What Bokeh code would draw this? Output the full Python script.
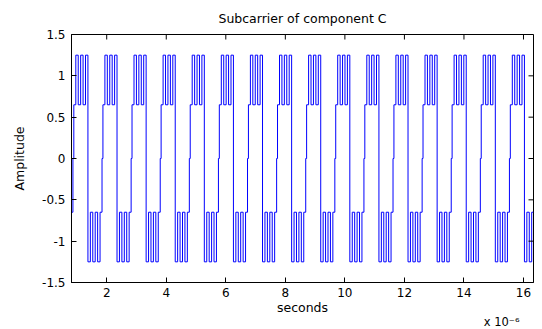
import numpy as np
from bokeh.plotting import figure
from bokeh.models import FixedTicker, Range1d, Title
from bokeh.embed import file_html
from bokeh.resources import INLINE

# ---- values ----
x_limits = [0.817, 16.336]          # axis limits, in microseconds (x 10^-6 s)
y_limits = [-1.5, 1.5]
period_us = 0.9775                  # one subcarrier period (~1 chip)
first_rise_us = 0.88                # first rising edge
# levels of the 12 equal sub-intervals of one period
pattern = [0.65, 1.25, 0.65, 1.25, 0.65, 1.25,
           -1.25, -0.65, -1.25, -0.65, -1.25, -0.65]
edge_level = 0.0                    # short level seen on every rising edge
edge_width_us = 0.03
x_ticks = [2, 4, 6, 8, 10, 12, 14, 16]
x_labels = ["2", "4", "6", "8", "10", "12", "14", "16"]
y_ticks = [-1.5, -1, -0.5, 0, 0.5, 1, 1.5]
y_labels = ["-1.5", "-1", "-0.5", "0", "0.5", "1", "1.5"]

# ---- build the stepped waveform from the period pattern ----
sub = period_us / len(pattern)
k_first = int(np.floor((x_limits[0] - first_rise_us) / period_us)) - 1
k_last = int(np.ceil((x_limits[1] - first_rise_us) / period_us)) + 1
segs = []
for k in range(k_first, k_last + 1):
    t_r = first_rise_us + k * period_us
    segs.append((t_r - edge_width_us / 2, edge_level))
    for i, lev in enumerate(pattern):
        start = t_r + i * sub + (edge_width_us / 2 if i == 0 else 0.0)
        segs.append((start, lev))
segs.sort()
clipped = []
for j, (s, lev) in enumerate(segs):
    nxt = segs[j + 1][0] if j + 1 < len(segs) else np.inf
    if nxt <= x_limits[0] or s >= x_limits[1]:
        continue
    clipped.append((max(s, x_limits[0]), lev))
xs, ys = [], []
for j, (s, lev) in enumerate(clipped):
    e = clipped[j + 1][0] if j + 1 < len(clipped) else x_limits[1]
    xs += [s, e]
    ys += [lev, lev]

FONT = "DejaVu Sans"
FS_TICK = "12px"
FS_LAB = "12.5px"
FW, FH = 462, 248
TICK_PX = 5

p = figure(frame_width=FW, frame_height=FH,
           min_border_left=71, min_border_right=9,
           min_border_top=34, min_border_bottom=47,
           x_range=Range1d(*x_limits), y_range=Range1d(*y_limits),
           output_backend="svg", toolbar_location=None,
           background_fill_color="white", border_fill_color="white",
           title="Subcarrier of component C")

p.line(xs, ys, line_color="#0000ff", line_width=1)

# inward ticks on the top and right edges (MATLAB box)
dy = TICK_PX * (y_limits[1] - y_limits[0]) / FH
dx = TICK_PX * (x_limits[1] - x_limits[0]) / FW
p.segment(x0=x_ticks, y0=[y_limits[1]] * len(x_ticks),
          x1=x_ticks, y1=[y_limits[1] - dy] * len(x_ticks),
          line_color="black", line_width=1)
p.segment(x0=[x_limits[1]] * len(y_ticks), y0=y_ticks,
          x1=[x_limits[1] - dx] * len(y_ticks), y1=y_ticks,
          line_color="black", line_width=1)

p.grid.visible = False
p.outline_line_color = "black"
p.outline_line_width = 1

p.title.align = "center"
p.title.text_font = FONT
p.title.text_font_size = FS_LAB
p.title.text_font_style = "normal"
p.title.text_color = "black"
p.title.standoff = 17

for ax, ticks, labels in ((p.xaxis[0], x_ticks, x_labels), (p.yaxis[0], y_ticks, y_labels)):
    ax.ticker = FixedTicker(ticks=ticks)
    ax.major_label_overrides = {t: l for t, l in zip(ticks, labels)}
    ax.major_tick_in = TICK_PX
    ax.major_tick_out = 0
    ax.minor_tick_line_color = None
    ax.axis_line_color = "black"
    ax.major_tick_line_color = "black"
    ax.major_label_text_font = FONT
    ax.major_label_text_font_size = FS_TICK
    ax.major_label_text_color = "black"
    ax.axis_label_text_font = FONT
    ax.axis_label_text_font_size = FS_LAB
    ax.axis_label_text_font_style = "normal"
    ax.axis_label_text_color = "black"

p.xaxis.axis_label = "seconds"
p.xaxis.major_label_standoff = 5
p.xaxis.axis_label_standoff = 0
p.yaxis.axis_label = "Amplitude"
p.yaxis.major_label_standoff = 6
p.yaxis.axis_label_standoff = 12

# "x 10^-6" exponent note under the x axis, at the right
p.add_layout(Title(text="x 10\u207b\u2076", align="right", offset=14, standoff=-9,
                   vertical_align="bottom",
                   text_font=FONT, text_font_size="11.5px",
                   text_font_style="normal", text_color="black"), "below")

open("out.html", "w").write(file_html(p, INLINE))
